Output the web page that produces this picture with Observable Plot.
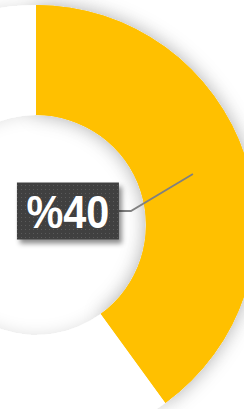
<!DOCTYPE html>
<html><head><meta charset="utf-8">
<script src="https://cdn.jsdelivr.net/npm/d3@7"></script>
<script src="https://cdn.jsdelivr.net/npm/@observablehq/plot@0.6"></script>
<style>html,body{margin:0;padding:0;background:#fff;overflow:hidden}</style>
</head><body><div id="chart"></div>
<script>
const categories = ["Done", "Remaining"];
const values = [40, 60];
const colors = ["#FFC000", "#FFFFFF"];
const labels = ["%40"];

const W = 244, H = 409;
const CX = 36, CY = 225, R_OUT = 220, R_IN = 110;

function donut(index, scales, vals, dims) {
  const g = d3.create("svg:g");
  const defs = g.append("defs");
  const f = defs.append("filter").attr("id", "ringShadow")
    .attr("x", "-50%").attr("y", "-50%").attr("width", "200%").attr("height", "200%");
  f.append("feDropShadow").attr("dx", 0).attr("dy", 0).attr("stdDeviation", 8)
    .attr("flood-color", "#000").attr("flood-opacity", 0.12);
  const fs = defs.append("filter").attr("id", "sliceShadow")
    .attr("x", "-50%").attr("y", "-50%").attr("width", "200%").attr("height", "200%");
  fs.append("feDropShadow").attr("dx", 0).attr("dy", 0).attr("stdDeviation", 10)
    .attr("flood-color", "#000").attr("flood-opacity", 0.22);
  const f2 = defs.append("filter").attr("id", "boxShadow")
    .attr("x", "-30%").attr("y", "-30%").attr("width", "160%").attr("height", "160%");
  f2.append("feDropShadow").attr("dx", 3).attr("dy", 4).attr("stdDeviation", 2.5)
    .attr("flood-color", "#000").attr("flood-opacity", 0.45);
  const pat = defs.append("pattern").attr("id", "dots").attr("patternUnits", "userSpaceOnUse")
    .attr("width", 4).attr("height", 4);
  pat.append("rect").attr("width", 4).attr("height", 4).attr("fill", "#3f3f3f");
  pat.append("rect").attr("x", 1).attr("y", 1).attr("width", 1).attr("height", 1).attr("fill", "#5a5a5a");

  const cx = scales.x(CX), cy = scales.y(CY);
  const pie = d3.pie().sort(null).value(d => d)(values);
  const arc = d3.arc().innerRadius(R_IN).outerRadius(R_OUT);
  const ring = g.append("g").attr("transform", `translate(${cx},${cy})`);
  // faint shadow of the whole ring
  ring.append("g").attr("filter", "url(#ringShadow)")
    .selectAll("path").data(pie).join("path")
    .attr("d", arc).attr("fill", "#fff");
  // stronger shadow of the highlighted slice
  ring.append("path").datum(pie[0]).attr("d", arc).attr("fill", colors[0])
    .attr("filter", "url(#sliceShadow)");
  ring.append("g").selectAll("path").data(pie).join("path")
    .attr("d", arc).attr("fill", (d, i) => colors[i]);

  // label for first slice
  const [mx, my] = arc.centroid(pie[0]);
  const px = cx + mx, py = cy + my;
  const elbowX = px - 62, elbowY = py + 37;
  const boxW = 102, boxH = 57;
  const boxR = elbowX - 12;
  g.append("path")
    .attr("d", `M${px},${py}L${elbowX},${elbowY}L${boxR},${elbowY}`)
    .attr("fill", "none").attr("stroke", "#808080").attr("stroke-width", 1.8);
  g.append("rect").attr("x", boxR - boxW).attr("y", elbowY - boxH / 2)
    .attr("width", boxW).attr("height", boxH)
    .attr("fill", "url(#dots)").attr("filter", "url(#boxShadow)");
  const tx = boxR - boxW / 2, ty = elbowY + 1;
  g.append("text").attr("x", 0).attr("y", 0)
    .attr("transform", `translate(${tx},${ty}) scale(0.9,1)`)
    .attr("text-anchor", "middle").attr("dominant-baseline", "central")
    .attr("font-family", "'Liberation Sans', Arial, sans-serif")
    .attr("font-weight", "bold").attr("font-size", 46).attr("fill", "#fff")
    .text(labels[0]);
  return g.node();
}

const chart = Plot.plot({
  width: W, height: H, margin: 0,
  x: {domain: [0, W], range: [0, W], axis: null},
  y: {domain: [0, H], range: [0, H], axis: null},
  style: {background: "#fff"},
  marks: [donut]
});
document.getElementById("chart").append(chart);
</script>
</body></html>
